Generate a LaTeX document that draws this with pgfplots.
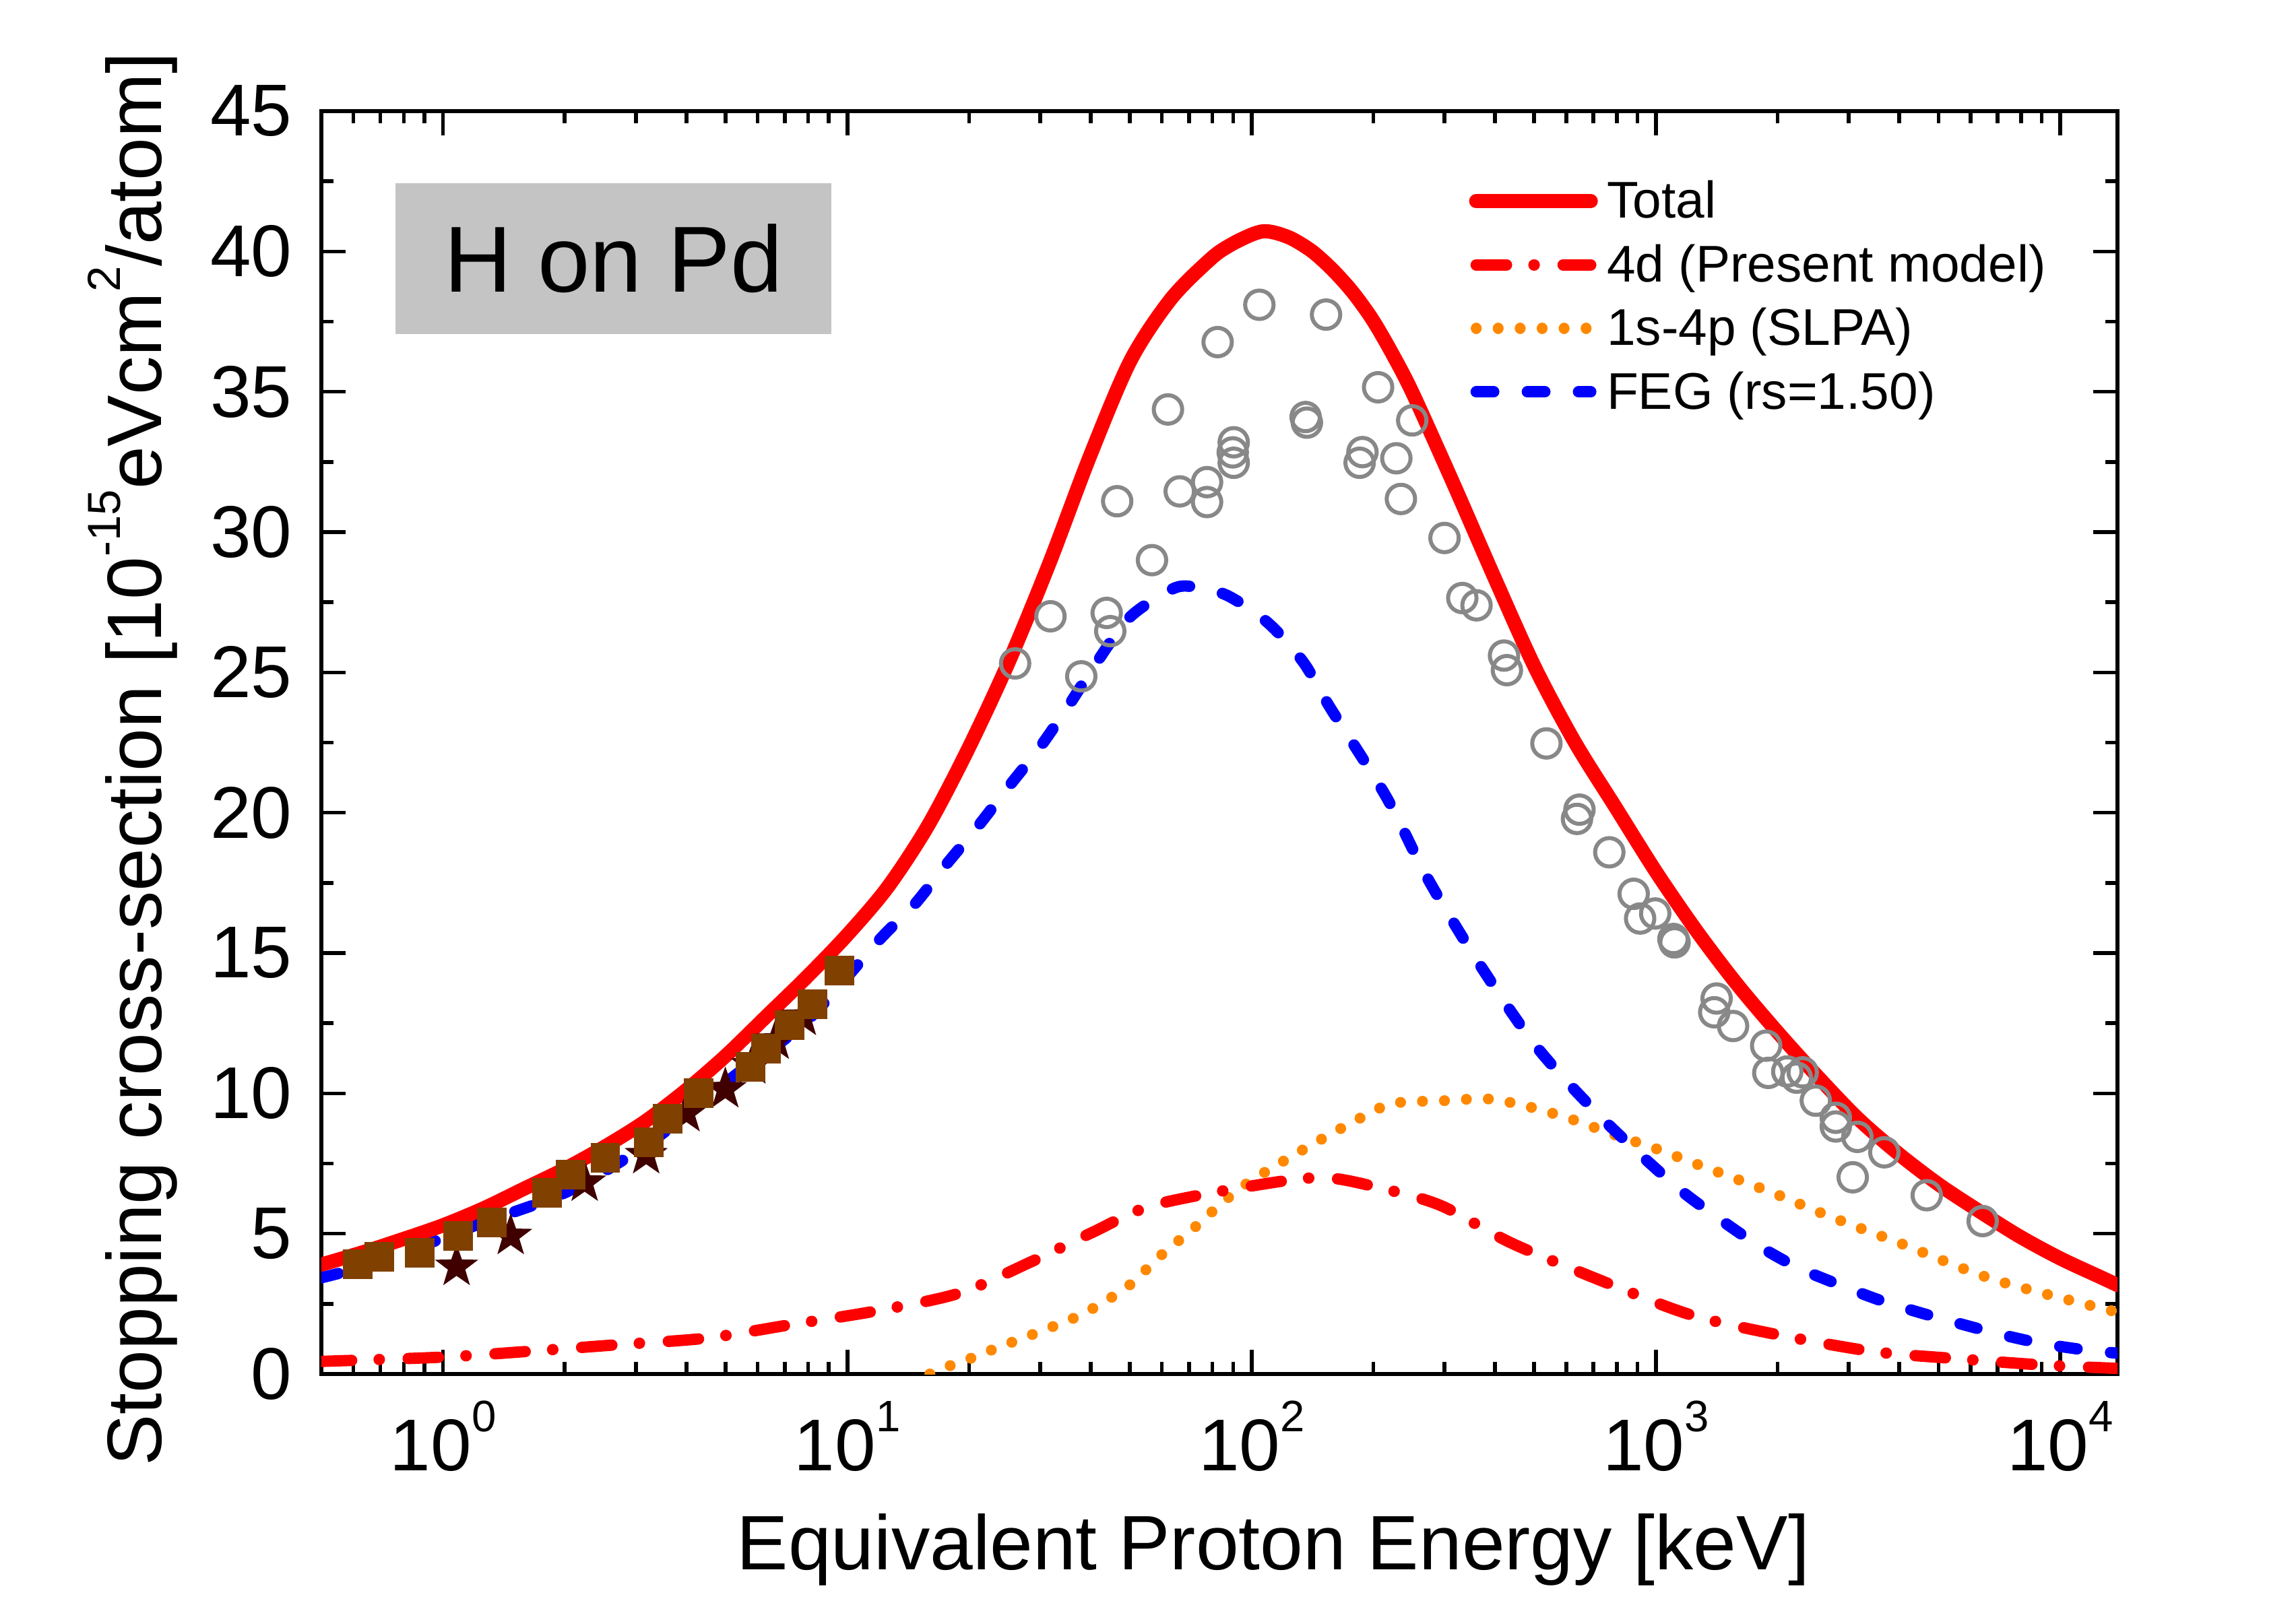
\documentclass[border=0pt]{standalone}
\usepackage{fontspec}
\setmainfont{Liberation Sans}
\usepackage{pgfplots}
\pgfplotsset{compat=1.18}
\usetikzlibrary{plotmarks}

\definecolor{totred}{RGB}{255,0,0}
\definecolor{fegblue}{RGB}{0,0,255}
\definecolor{slpaorange}{RGB}{255,136,0}
\definecolor{circgray}{RGB}{136,136,136}
\definecolor{sqbrown}{RGB}{128,64,0}
\definecolor{starcol}{RGB}{64,0,0}
\definecolor{boxgray}{RGB}{196,196,196}

\newcommand\ticksize{\fontsize{15.5pt}{18pt}\selectfont}
\newcommand\labsize{\fontsize{16.3pt}{19pt}\selectfont}
\newcommand\legsize{\fontsize{10.9pt}{13pt}\selectfont}
\newcommand\boxsize{\fontsize{19.8pt}{23pt}\selectfont}
\newcommand\tsup[1]{\raisebox{8.2pt}{\fontsize{9.3pt}{10pt}\selectfont #1}}
\newcommand\ysup[1]{\raisebox{8.7pt}{\fontsize{9.8pt}{10pt}\selectfont #1}}

% filled five-point star
\pgfdeclareplotmark{fstar}{%
  \pgfpathmoveto{\pgfqpointpolar{90}{\pgfplotmarksize}}%
  \pgfpathlineto{\pgfqpointpolar{126}{0.4\pgfplotmarksize}}%
  \pgfpathlineto{\pgfqpointpolar{162}{\pgfplotmarksize}}%
  \pgfpathlineto{\pgfqpointpolar{198}{0.4\pgfplotmarksize}}%
  \pgfpathlineto{\pgfqpointpolar{234}{\pgfplotmarksize}}%
  \pgfpathlineto{\pgfqpointpolar{270}{0.4\pgfplotmarksize}}%
  \pgfpathlineto{\pgfqpointpolar{306}{\pgfplotmarksize}}%
  \pgfpathlineto{\pgfqpointpolar{342}{0.4\pgfplotmarksize}}%
  \pgfpathlineto{\pgfqpointpolar{18}{\pgfplotmarksize}}%
  \pgfpathlineto{\pgfqpointpolar{54}{0.4\pgfplotmarksize}}%
  \pgfpathclose\pgfusepathqfillstroke}

\begin{document}
\begin{tikzpicture}
\useasboundingbox (-2.385cm,-1.695cm) rectangle (14.655cm,10.2cm);
\begin{axis}[
  at={(0,0)}, anchor=south west,
  scale only axis, width=13.33cm, height=9.375cm,
  xmode=log, xmin=0.5, xmax=13860, ymin=0, ymax=45,
  xtick={1,10,100,1000,10000},
  xticklabels={10\tsup{0},10\tsup{1},10\tsup{2},10\tsup{3},10\tsup{4}},
  minor xtick={0.6,0.7,0.8,0.9,2,3,4,5,6,7,8,9,20,30,40,50,60,70,80,90,200,300,400,500,600,700,800,900,2000,3000,4000,5000,6000,7000,8000,9000},
  ytick={0,5,...,45}, minor y tick num=1,
  tick align=inside, xtick pos=both, ytick pos=both,
  major tick length=0.18cm, minor tick length=0.09cm,
  every tick/.style={black, line width=0.8pt},
  axis line style={line width=0.9pt},
  /pgf/number format/assume math mode=true,
  tick label style={font=\ticksize},
  xticklabel style={anchor=base, yshift=-0.715cm},
  yticklabel style={anchor=east, inner sep=0pt, xshift=-0.21cm},
  xlabel={Equivalent Proton Energy [keV]},
  ylabel={Stopping cross-section [10\ysup{-15}eVcm\ysup{2}/atom]},
  every axis x label/.style={at={(axis description cs:0.53,0)}, anchor=base, yshift=-1.45cm, font=\labsize},
  every axis y label/.style={at={(axis description cs:0,0.487)}, xshift=-1.185cm, rotate=90, anchor=base, font=\labsize},
  legend style={at={(rel axis cs:0.639,0.949)}, anchor=north west, draw=none, fill=none,
    inner sep=0pt, outer sep=0pt, font=\legsize, row sep=0.091cm, column sep=0.067cm,
    nodes={inner sep=0pt, text height=0.9em, text depth=0.184em}},
  legend cell align=left,
  legend image code/.code={\draw[#1] (0cm,0cm) -- (0.85cm,0cm);},
]
\addlegendimage{totred, line width=3pt, line cap=round}
\addlegendentry{Total}
\addlegendimage{totred, line width=2.4pt, line cap=round, dash pattern=on 6.4pt off 5.8pt on 0.05pt off 6.1pt}
\addlegendentry{4d (Present model)}
\addlegendimage{slpaorange, line width=2.3pt, line cap=round, dash pattern=on 0.01pt off 4.63pt}
\addlegendentry{1s-4p (SLPA)}
\addlegendimage{fegblue, line width=2.4pt, line cap=round, dash pattern=on 3.7pt off 7.1pt}
\addlegendentry{FEG (rs=1.50)}

% experimental data, open circles
\addplot[forget plot, only marks, mark=o, mark size=3pt, circgray, mark options={line width=0.85pt}] coordinates {
(104.5,38.1) (152.8,37.75) (82.4,36.77) (205.5,35.16) (62.1,34.37) (136,34.1) (137,33.9)
(249.6,33.98) (90.3,33.2) (89.8,32.84) (90.3,32.47) (188,32.85) (185,32.47) (228,32.63)
(77.6,31.78) (66.4,31.45) (77.6,31.07) (46.5,31.1) (234,31.18) (300,29.79) (56.7,29.0)
(332,27.65) (360,27.39) (31.8,27.0) (43.8,27.12) (44.7,26.47) (26.0,25.32) (37.9,24.86)
(421,25.6) (428,25.08) (536,22.47) (647,20.11) (638,19.78) (767,18.59) (881,17.11)
(996,16.41) (914,16.23) (1105,15.5) (1112,15.38) (1413,13.38) (1394,12.89) (1552,12.4)
(1874,11.7) (1897,10.73) (2113,10.78) (2230,10.56) (2307,10.75) (2486,9.74) (2786,9.13)
(2786,8.82) (3150,8.45) (3673,7.9) (3068,7.01) (4677,6.37) (6430,5.45)
};
% experimental data, stars
\addplot[forget plot, only marks, mark=fstar, mark size=4.5pt, starcol, mark options={fill=starcol, line width=0.2pt}] coordinates {
(1.08,3.82) (1.47,4.92) (2.24,6.82) (3.18,7.8) (4.0,9.3) (4.99,10.15) (5.82,11.0) (6.65,11.88) (7.76,12.73)
};
% experimental data, squares
\addplot[forget plot, only marks, mark=square*, mark size=3.05pt, sqbrown, mark options={line width=0pt}] coordinates {
(0.616,3.92) (0.696,4.17) (0.877,4.32) (1.09,4.92) (1.32,5.41) (1.81,6.46) (2.07,7.1) (2.52,7.7)
(3.23,8.26) (3.59,9.1) (4.29,10.0) (5.76,10.94) (6.3,11.59) (7.19,12.43) (8.19,13.17) (9.56,14.37)
};

% 1s-4p (SLPA)
\addplot[forget plot, smooth, slpaorange, line width=2.3pt, line cap=round, dash pattern=on 0.01pt off 4.63pt] coordinates {
(16,0) (17.9,0.29) (20.2,0.56) (22.6,0.84) (25.4,1.12) (28.6,1.4) (32.1,1.68) (35.9,1.96) (40.3,2.32)
(49.4,3.12) (59.8,4.24) (72,5.2) (85.5,6.16) (100,6.9) (146,8.3) (209,9.5) (234,9.68) (300,9.74)
(386,9.8) (492,9.5) (621,9.07) (791,8.52) (1000,8.03) (1260,7.48) (1595,6.93) (2005,6.38)
(2540,5.76) (3195,5.2) (4035,4.65) (6870,3.36) (13860,2.2)
};
% 4d (present model)
\addplot[forget plot, smooth, totred, line width=2.4pt, line cap=round, dash pattern=on 6.4pt off 5.8pt on 0.05pt off 6.1pt] coordinates {
(0.5,0.45) (0.99,0.6) (1.6,0.8) (2.68,1.04) (4.49,1.28) (7.25,1.76) (11.7,2.24) (18.9,2.88)
(28.5,4.0) (40.3,5.04) (56.7,6.0) (100,6.7) (150,7.0) (209,6.62) (294,6.0) (443,4.64) (821,3.04)
(1238,2.08) (2000,1.4) (3453,0.8) (5500,0.55) (9080,0.32) (13860,0.2)
};
% FEG
\addplot[forget plot, smooth, fegblue, line width=2.4pt, line cap=round, dash pattern=on 3.7pt off 7.1pt] coordinates {
(0.5,3.43) (0.703,4.02) (1.22,5.33) (2.03,6.5) (3.29,8.3) (5.23,10.6) (7.94,12.58) (12.05,15.5)
(14.6,16.7) (17.6,18.17) (21.0,19.5) (25.1,20.94) (30.0,22.35) (35.2,23.8) (41,25.27) (49.9,26.96)
(63.6,27.97) (72,28.05) (87.1,27.74) (109.7,26.77) (134,25.38) (156,23.77) (215,20.58) (273,17.64)
(367,14.58) (508,11.64) (741,9.07) (1110,6.74) (1413,5.6) (1800,4.56) (2239,3.8) (2818,3.2)
(3548,2.65) (4467,2.2) (5623,1.8) (7079,1.42) (8913,1.1) (11220,0.88) (13860,0.74)
};
% Total
\addplot[forget plot, smooth, totred, line width=3pt, line cap=round] coordinates {
(0.5,3.9) (0.631,4.33) (0.794,4.8) (1,5.3) (1.259,5.9) (1.585,6.6) (1.995,7.3) (2.512,8.1)
(3.162,9.0) (3.981,10.1) (5.012,11.35) (6.31,12.75) (7.943,14.15) (10,15.65) (12.59,17.35)
(15.85,19.55) (19.95,22.3) (25.12,25.4) (31.62,28.9) (39.81,32.7) (50.12,36.1) (63.1,38.3)
(79.43,39.75) (89.13,40.25) (100,40.6) (107.2,40.72) (114.8,40.66) (125.9,40.45) (141.3,40.0)
(158.5,39.35) (177.8,38.55) (199.5,37.55) (223.9,36.3) (251.2,34.9) (316.2,31.7) (398.1,28.4)
(501.2,25.2) (631,22.5) (794.3,20.2) (1000,17.9) (1259,15.8) (1585,13.9) (1995,12.2)
(2512,10.6) (3162,9.1) (3981,7.85) (5012,6.75) (6310,5.8) (7943,4.9) (10000,4.12)
(12590,3.45) (13860,3.17)
};

\node[fill=boxgray, minimum width=3.235cm, minimum height=1.12cm, inner sep=0pt, font=\boxsize]
  at (rel axis cs:0.1626,0.8832) {H on Pd};
\end{axis}
\end{tikzpicture}
\end{document}
